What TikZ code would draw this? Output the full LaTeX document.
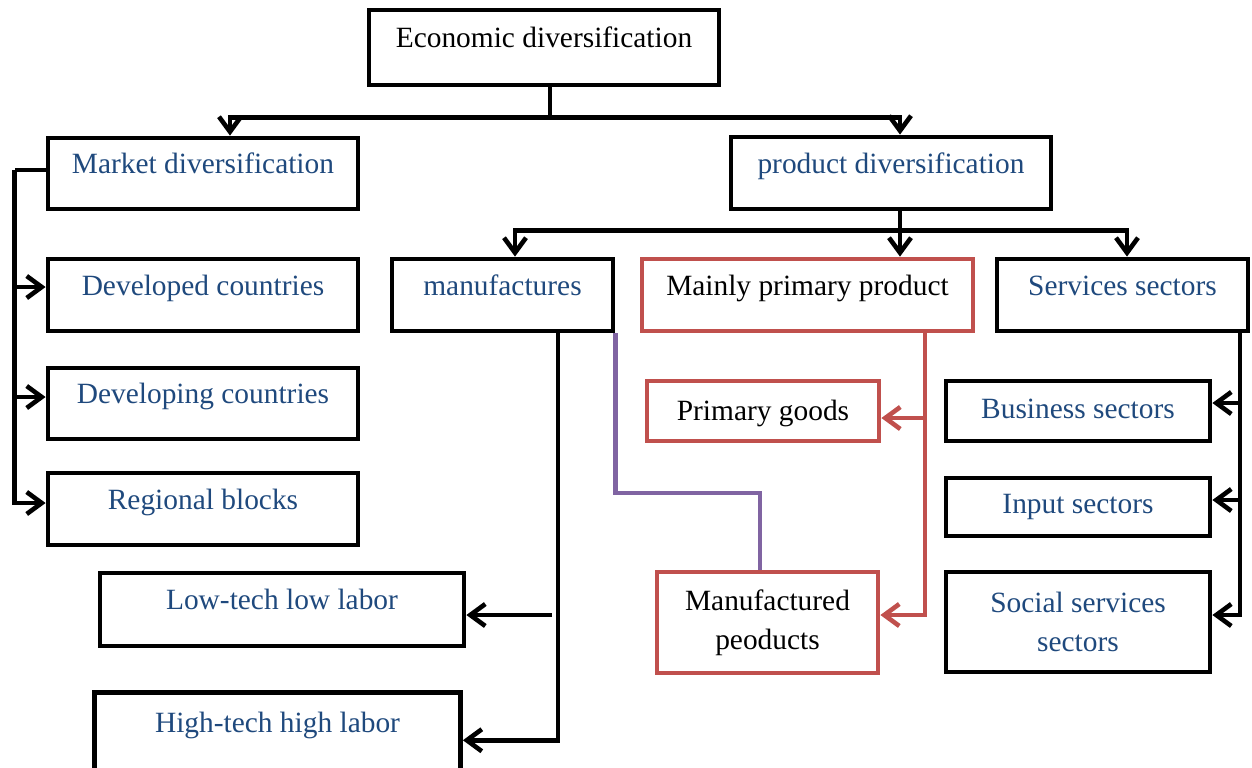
\documentclass[tikz,border=0pt]{standalone}
\usepackage{fontspec}
\setmainfont{Liberation Serif}
\usetikzlibrary{arrows.meta}
\definecolor{textblue}{RGB}{31,73,125}
\definecolor{boxred}{RGB}{192,80,77}
\definecolor{linkpurple}{RGB}{128,100,162}
\begin{document}
\begin{tikzpicture}[x=0.5pt, y=-0.5pt,
  box/.style={draw, line width=2.4pt, inner sep=0pt, align=center, text=textblue,
    font=\fontsize{14.7}{19.5}\selectfont},
  mid/.style={text height=10pt, text depth=10pt},
  redbox/.style={box, draw=boxred, text=black},
  conn/.style={line width=2.3pt},
  arr/.style={conn, -{Straight Barb[length=7.5pt,width=11pt]}},
  redarr/.style={arr, draw=boxred},
  purp/.style={conn, draw=linkpurple}]
\useasboundingbox (0,0) rectangle (1252,767);
\node[box, mid, text=black, minimum width=175pt, minimum height=37.5pt] (econ) at (544,47.5) {Economic diversification};
\node[box, mid, minimum width=155pt, minimum height=35.5pt] (market) at (203,173.5) {Market diversification};
\node[box, mid, minimum width=160pt, minimum height=36pt] (product) at (891,173) {product diversification};
\node[box, mid, minimum width=155pt, minimum height=36pt] (devd) at (203,295) {Developed countries};
\node[box, mid, minimum width=155pt, minimum height=35.5pt] (devg) at (203,403.5) {Developing countries};
\node[box, mid, minimum width=155pt, minimum height=36pt] (region) at (203,509) {Regional blocks};
\node[box, mid, minimum width=110.5pt, minimum height=36pt] (manuf) at (502.5,295) {manufactures};
\node[redbox, mid, minimum width=165.5pt, minimum height=36pt] (primary) at (807.5,295) {Mainly primary product};
\node[box, mid, minimum width=125.5pt, minimum height=36pt] (services) at (1122.5,295) {Services sectors};
\node[redbox, text height=10pt, text depth=1pt, minimum width=116pt, minimum height=30pt] (goods) at (763,411) {Primary goods};
\node[redbox, minimum width=110.5pt, minimum height=50.5pt] (madeprod) at (767.5,622.5) {Manufactured\\peoducts};
\node[box, text height=10pt, text depth=3pt, minimum width=132pt, minimum height=30pt] (business) at (1078,411) {Business sectors};
\node[box, text height=10pt, text depth=4pt, minimum width=132pt, minimum height=29pt] (input) at (1078,507) {Input sectors};
\node[box, minimum width=132pt, minimum height=50pt] (social) at (1078,622) {Social services\\sectors};
\node[box, mid, minimum width=182pt, minimum height=36.5pt] (lowtech) at (282,609.5) {Low-tech low labor};
\node[box, mid, minimum width=183pt, minimum height=39.75pt] (hightech) at (277.5,732.25) {High-tech high labor};

\draw[conn] ([xshift=3pt]econ.south) -- ++(0,30) coordinate (hubA);
\draw[arr] (hubA) -| ([xshift=13.5pt]market.north);
\draw[arr] (hubA) -| ([xshift=4.5pt]product.north);

\draw[conn] ([xshift=4.5pt]product.south) -- ++(0,19) coordinate (hubB);
\draw[arr] (hubB) -| ([xshift=6.25pt]manuf.north);
\draw[arr] (hubB) -- ([xshift=46.25pt]primary.north);
\draw[arr] (hubB) -| ([xshift=2.25pt]services.north);

\draw[conn] ([yshift=1.75pt]market.west) -- ++(-31,0) coordinate (busL);
\draw[arr] (busL) |- ([yshift=4pt]devd.west);
\draw[arr] (busL) |- ([yshift=3.25pt]devg.west);
\draw[arr] (busL) |- ([yshift=3pt]region.west);

\coordinate (busM) at ([xshift=27.75pt]manuf.south);
\coordinate (lowin) at ([yshift=-2.75pt]lowtech.east);
\draw[arr] (busM) |- ([yshift=-4pt]hightech.east);
\draw[arr] ([xshift=-3pt]busM |- lowin) -- (lowin);

\coordinate (bendP) at (700,493);
\draw[purp] (manuf.south east) |- (bendP) -| ([xshift=-3.75pt]madeprod.north);

\coordinate (busR) at ([xshift=58.75pt]primary.south);
\draw[redarr] (busR) |- ([yshift=-3.5pt]goods.east);
\draw[redarr] (busR) |- ([yshift=3.75pt]madeprod.east);

\coordinate (busS) at ([xshift=58.75pt]services.south);
\draw[arr] (busS) |- ([yshift=4pt]business.east);
\draw[arr] (busS) |- ([yshift=3.5pt]input.east);
\draw[arr] (busS) |- ([yshift=3.5pt]social.east);
\end{tikzpicture}
\end{document}
